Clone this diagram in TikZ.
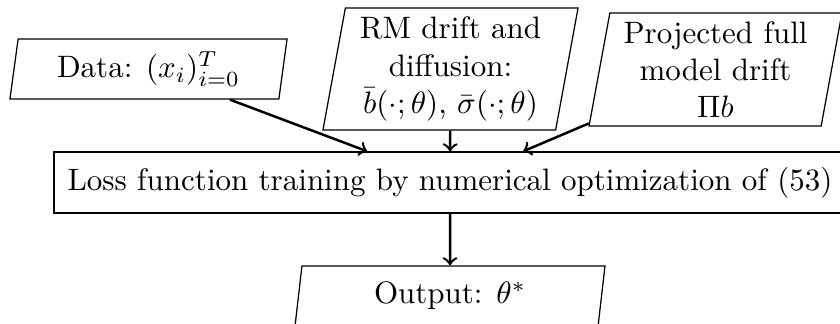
\documentclass[tikz,border=0pt]{standalone}
\usetikzlibrary{shapes.geometric}
\begin{document}
\begin{tikzpicture}[x=0.3226pt,y=-0.3226pt,
  iobox/.style={trapezium, trapezium left angle=78.5, trapezium right angle=101.5,
    trapezium stretches body, draw, align=center, inner sep=1pt},
  procbox/.style={draw, rectangle, inner sep=0pt},
  arr/.style={->, thick}]
\useasboundingbox (0,0) rectangle (840,324);
\node[iobox, minimum width=89.4pt, minimum height=19.4pt] (data) at (148.5,69) {Data: $(x_i)_{i=0}^T$};
\node[iobox, minimum width=82.3pt, minimum height=39.4pt] (rm) at (450.5,69) {RM drift and\\ diffusion:\\ $\bar{b}(\cdot;\theta)$, $\bar{\sigma}(\cdot;\theta)$};
\node[iobox, minimum width=81.6pt, minimum height=36.5pt] (proj) at (715.5,69.5) {Projected full\\ model drift\\ $\Pi b$};
\node[procbox, minimum width=255.5pt, minimum height=19.7pt] (main) at (450,182.5) {Loss function training by numerical optimization of (53)};
\node[iobox, minimum width=100pt, minimum height=19.4pt] (out) at (450,296) {Output: $\theta^*$};
\draw[arr] (data) -- (main);
\draw[arr] (rm) -- (main);
\draw[arr] (proj) -- (main);
\draw[arr] (main) -- (out);
\end{tikzpicture}
\end{document}
